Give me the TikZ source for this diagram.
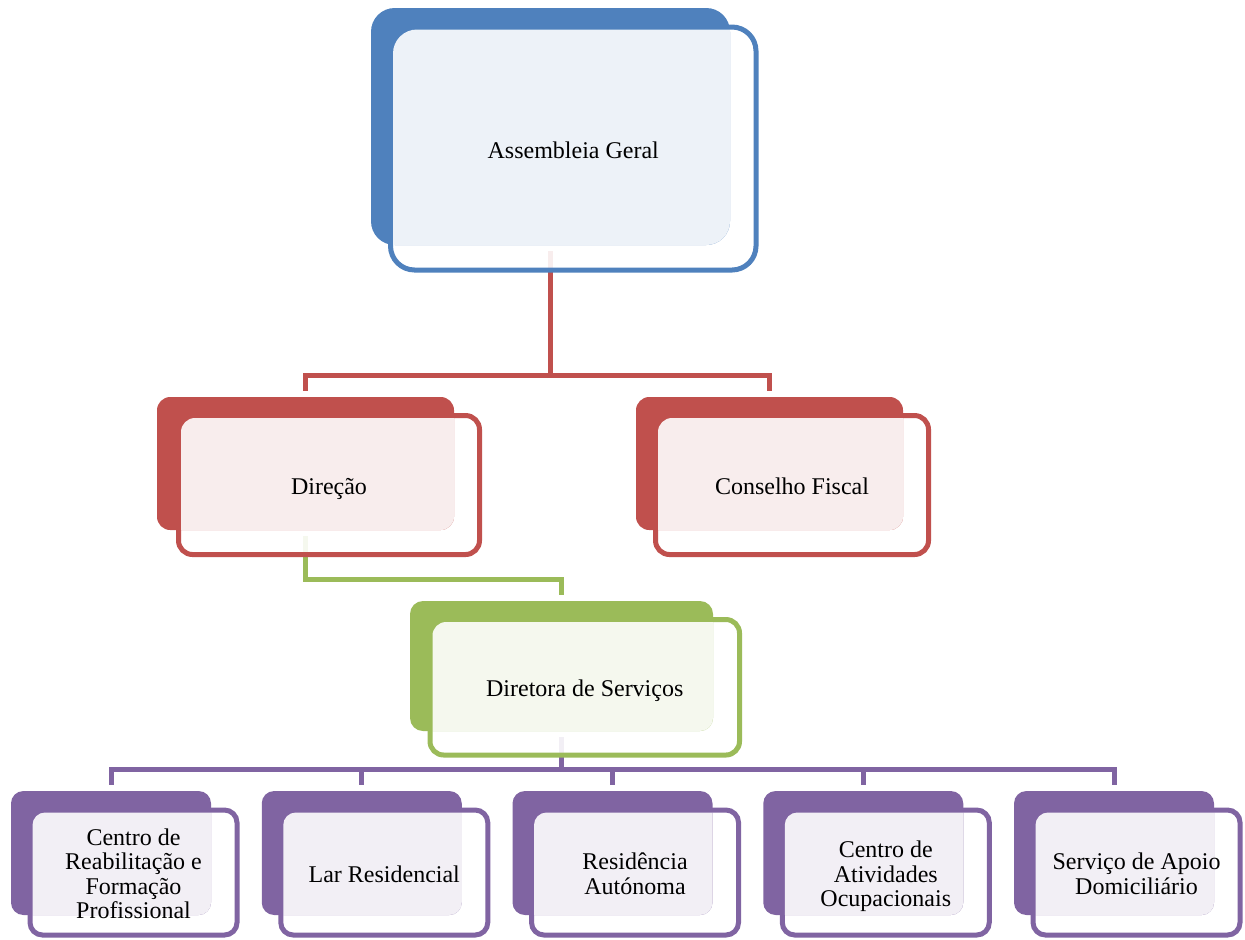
\documentclass[tikz,border=0pt]{standalone}
\usepackage{fontspec}
\setmainfont{Liberation Serif}
\usetikzlibrary{fit,calc}
\pgfdeclarelayer{bg}
\pgfsetlayers{bg,main}
\definecolor{cblue}{HTML}{4F81BD}
\definecolor{cred}{HTML}{C0504D}
\definecolor{cgreen}{HTML}{9BBB59}
\definecolor{cpurple}{HTML}{8064A2}
\tikzset{
  backbox/.style={rectangle, inner sep=0pt, outer sep=0pt, fill=#1, draw=none},
  frontbox/.style={rectangle, inner sep=0pt, outer sep=0pt, draw=#1, line width=2.5pt, fill=white, fill opacity=0.9, draw opacity=1},
  boxtext/.style={font=\fontsize{12}{12.3}\selectfont, align=center, text=black, inner sep=0pt, text depth=0pt, yshift=-0.6pt},
  conn/.style={line width=2.5pt, draw=#1},
  overlay fill/.style={fill=white, fill opacity=0.9},
}
% #1 name, #2 colour, #3 back corners, #4 back radius, #5 front corners, #6 front radius, #7 text
\newcommand{\orgbox}[7]{%
  \node[frontbox=#2, rounded corners=#6, fit={#5}] (#1-f) {};
  \node[backbox=#2, rounded corners=#4, fit={#3}] (#1-b) {};
  \begin{scope}
    \clip[rounded corners=#6] ([shift={(2.5,2.5)}]#1-f.north west) rectangle ([shift={(-2.5,-2.5)}]#1-f.south east);
    \fill[overlay fill, rounded corners=#4] (#1-b.north west) rectangle (#1-b.south east);
  \end{scope}
  \node[boxtext] (#1) at (#1-f.center) {#7};
}
\begin{document}
\begin{tikzpicture}[x=0.5pt,y=-0.5pt]
\useasboundingbox (0,0) rectangle (1245,939);

\orgbox{ag}{cblue}{(371,8) (730,245)}{11.85pt}{(390.5,27) (756,270)}{12pt}{Assembleia Geral}
\orgbox{dir}{cred}{(157,397) (454,530)}{6.65pt}{(178.5,415.5) (479.5,554.5)}{7pt}{Direção}
\orgbox{cf}{cred}{(636,397) (903,530)}{6.65pt}{(655.5,415.5) (928.5,554.5)}{7pt}{Conselho Fiscal}
\orgbox{ds}{cgreen}{(410,601) (713,731)}{6.5pt}{(430,619.5) (739.5,755)}{6.8pt}{Diretora de Serviços}

\orgbox{s1}{cpurple}{(11,791) (211,915)}{6.2pt}{(30,810) (237,935)}{6.25pt}{Centro de\\Reabilitação e\\Formação\\Profissional}
\orgbox{s2}{cpurple}{(261.75,791) (461.75,915)}{6.2pt}{(280.75,810) (487.75,935)}{6.25pt}{Lar Residencial}
\orgbox{s3}{cpurple}{(512.5,791) (712.5,915)}{6.2pt}{(531.5,810) (738.5,935)}{6.25pt}{Residência\\Autónoma}
\orgbox{s4}{cpurple}{(763.25,791) (963.25,915)}{6.2pt}{(782.25,810) (989.25,935)}{6.25pt}{Centro de\\Atividades\\Ocupacionais}
\orgbox{s5}{cpurple}{(1014,791) (1214,915)}{6.2pt}{(1033,810) (1240,935)}{6.25pt}{Serviço de Apoio\\Domiciliário}

\begin{pgfonlayer}{bg}
  \draw[conn=cred] ($(ag-b.south)+(0,6)$) |- ($(dir-b.north)+(0,-22)$) -- ($(dir-b.north)+(0,-6)$);
  \draw[conn=cred] ($(ag-b.south)+(0,6)$) |- ($(cf-b.north)+(0,-22)$) -- ($(cf-b.north)+(0,-6)$);
  \draw[conn=cgreen] ($(dir-b.south)+(0,6)$) |- ($(ds-b.north)+(0,-22)$) -- ($(ds-b.north)+(0,-6)$);
  \foreach \s in {s1,s2,s3,s4,s5}{
    \draw[conn=cpurple] ($(ds-b.south)+(0,6)$) |- ($(\s-b.north)+(0,-22)$) -- ($(\s-b.north)+(0,-6)$);
  }
\end{pgfonlayer}
\end{tikzpicture}
\end{document}
